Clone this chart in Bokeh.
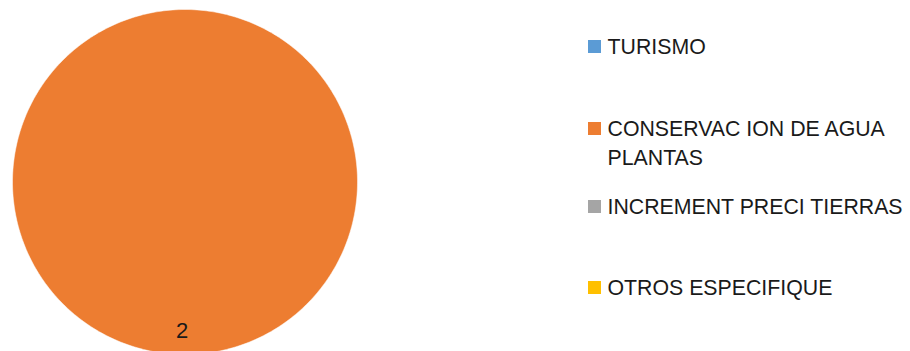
import numpy as np
from bokeh.plotting import figure
from bokeh.models import Range1d
from bokeh.core.properties import value
from bokeh.embed import file_html
from bokeh.resources import INLINE

# ---- data ----
categories = ["TURISMO", "CONSERVAC ION DE AGUA\nPLANTAS", "INCREMENT PRECI TIERRAS", "OTROS ESPECIFIQUE"]
values = [0, 2, 0, 0]
colors = ["#5B9BD5", "#ED7D31", "#A5A5A5", "#FFC000"]

# ---- layout (coordinates = page pixels) ----
W, H = 910, 351
p = figure(width=W, height=H, output_backend="svg", toolbar_location=None,
           x_range=Range1d(0, W), y_range=Range1d(0, H), min_border=0)
p.axis.visible = False
p.grid.visible = False
p.outline_line_color = None
p.background_fill_color = "white"
p.border_fill_color = "white"

cx, cy, r = 184.5, H - 181.5, 172.5

vals = np.array(values, dtype=float)
total = vals.sum()
ang = vals / total * 2 * np.pi
ends = np.pi / 2 - np.cumsum(ang)
starts = ends + ang

xs, ys, fc = [], [], []
for s, e, a, c in zip(starts, ends, ang, colors):
    if a > 0:
        t = np.linspace(s, e, 361)
        px = cx + r * np.cos(t)
        py = cy + r * np.sin(t)
        if a < 2 * np.pi - 1e-9:
            px = np.concatenate([[cx], px])
            py = np.concatenate([[cy], py])
        xs.append(list(px)); ys.append(list(py)); fc.append(c)
p.patches(xs=xs, ys=ys, fill_color=fc, line_color="white", line_width=0.5)

# data labels
for s, e, a, v in zip(starts, ends, ang, values):
    if a > 0:
        mid = (s + e) / 2
        p.text(x=[cx + 0.86 * r * np.cos(mid) - 3], y=[cy + 0.86 * r * np.sin(mid)],
               text=[str(v)], text_font=value("Liberation Sans"), text_font_size="22px",
               text_align="center", text_baseline="middle", text_color="#1a1a1a")

# legend (manual)
legend_page_y = [46, 128, 206, 287]
sq_x = 594
tx = 607
line_h = 29
for lab, c, py in zip(categories, colors, legend_page_y):
    y = H - py
    p.rect(x=[sq_x], y=[y], width=13, height=13, width_units="screen",
           height_units="screen", fill_color=c, line_color=None)
    for i, ln in enumerate(lab.split("\n")):
        p.text(x=[tx], y=[y - i * line_h], text=[ln], text_font=value("Liberation Sans"),
               text_font_size="21.3px", text_align="left", text_baseline="middle",
               text_color="#1a1a1a")

open("out.html", "w").write(file_html(p, INLINE))
